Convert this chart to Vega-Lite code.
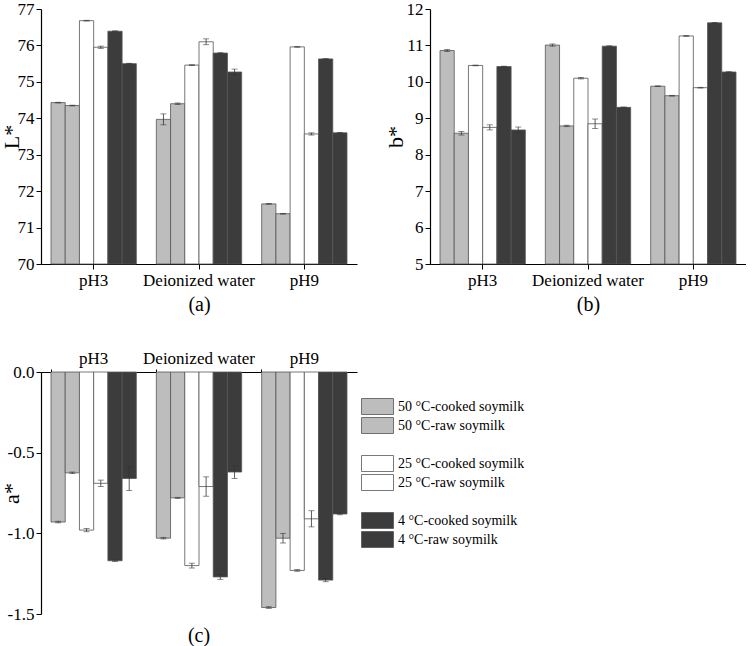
{
  "$schema": "https://vega.github.io/schema/vega-lite/v6.json",
  "padding": {"left": 0, "top": 0, "right": 0, "bottom": 0},
  "background": "white",
  "config": {
    "view": {"stroke": null},
    "font": "Liberation Serif",
    "axis": {"labelFont": "Liberation Serif", "titleFont": "Liberation Serif", "labelFontSize": 17, "titleFontSize": 22, "titleFontWeight": "normal", "labelColor": "black", "titleColor": "black", "domainColor": "black", "tickColor": "black", "grid": false, "labelAngle": 0, "domainWidth": 1.2, "tickWidth": 1},
    "legend": {"labelFont": "Liberation Serif", "titleFont": "Liberation Serif"},
    "title": {"font": "Liberation Serif", "fontWeight": "normal", "color": "black"}
  },
  "datasets": {
    "L": [
      {"medium": "pH3", "sample": "50 °C-cooked soymilk", "value": 74.43, "err": 0.01},
      {"medium": "pH3", "sample": "50 °C-raw soymilk", "value": 74.35, "err": 0.01},
      {"medium": "pH3", "sample": "25 °C-cooked soymilk", "value": 76.68, "err": 0.01},
      {"medium": "pH3", "sample": "25 °C-raw soymilk", "value": 75.95, "err": 0.03},
      {"medium": "pH3", "sample": "4 °C-cooked soymilk", "value": 76.39, "err": 0.01},
      {"medium": "pH3", "sample": "4 °C-raw soymilk", "value": 75.5, "err": 0.01},
      {"medium": "Deionized water", "sample": "50 °C-cooked soymilk", "value": 73.97, "err": 0.15},
      {"medium": "Deionized water", "sample": "50 °C-raw soymilk", "value": 74.4, "err": 0.02},
      {"medium": "Deionized water", "sample": "25 °C-cooked soymilk", "value": 75.46, "err": 0.01},
      {"medium": "Deionized water", "sample": "25 °C-raw soymilk", "value": 76.1, "err": 0.08},
      {"medium": "Deionized water", "sample": "4 °C-cooked soymilk", "value": 75.79, "err": 0.01},
      {"medium": "Deionized water", "sample": "4 °C-raw soymilk", "value": 75.27, "err": 0.08},
      {"medium": "pH9", "sample": "50 °C-cooked soymilk", "value": 71.65, "err": 0.01},
      {"medium": "pH9", "sample": "50 °C-raw soymilk", "value": 71.38, "err": 0.01},
      {"medium": "pH9", "sample": "25 °C-cooked soymilk", "value": 75.96, "err": 0.01},
      {"medium": "pH9", "sample": "25 °C-raw soymilk", "value": 73.57, "err": 0.03},
      {"medium": "pH9", "sample": "4 °C-cooked soymilk", "value": 75.63, "err": 0.01},
      {"medium": "pH9", "sample": "4 °C-raw soymilk", "value": 73.6, "err": 0.01}
    ],
    "B": [
      {"medium": "pH3", "sample": "50 °C-cooked soymilk", "value": 10.86, "err": 0.03},
      {"medium": "pH3", "sample": "50 °C-raw soymilk", "value": 8.59, "err": 0.05},
      {"medium": "pH3", "sample": "25 °C-cooked soymilk", "value": 10.45, "err": 0.01},
      {"medium": "pH3", "sample": "25 °C-raw soymilk", "value": 8.75, "err": 0.07},
      {"medium": "pH3", "sample": "4 °C-cooked soymilk", "value": 10.42, "err": 0.01},
      {"medium": "pH3", "sample": "4 °C-raw soymilk", "value": 8.68, "err": 0.08},
      {"medium": "Deionized water", "sample": "50 °C-cooked soymilk", "value": 11.01, "err": 0.03},
      {"medium": "Deionized water", "sample": "50 °C-raw soymilk", "value": 8.79, "err": 0.02},
      {"medium": "Deionized water", "sample": "25 °C-cooked soymilk", "value": 10.1, "err": 0.02},
      {"medium": "Deionized water", "sample": "25 °C-raw soymilk", "value": 8.85, "err": 0.13},
      {"medium": "Deionized water", "sample": "4 °C-cooked soymilk", "value": 10.98, "err": 0.01},
      {"medium": "Deionized water", "sample": "4 °C-raw soymilk", "value": 9.3, "err": 0.01},
      {"medium": "pH9", "sample": "50 °C-cooked soymilk", "value": 9.88, "err": 0.01},
      {"medium": "pH9", "sample": "50 °C-raw soymilk", "value": 9.62, "err": 0.01},
      {"medium": "pH9", "sample": "25 °C-cooked soymilk", "value": 11.26, "err": 0.01},
      {"medium": "pH9", "sample": "25 °C-raw soymilk", "value": 9.84, "err": 0.01},
      {"medium": "pH9", "sample": "4 °C-cooked soymilk", "value": 11.62, "err": 0.01},
      {"medium": "pH9", "sample": "4 °C-raw soymilk", "value": 10.27, "err": 0.01}
    ],
    "A": [
      {"medium": "pH3", "sample": "50 °C-cooked soymilk", "value": -0.93, "err": 0.005},
      {"medium": "pH3", "sample": "50 °C-raw soymilk", "value": -0.625, "err": 0.005},
      {"medium": "pH3", "sample": "25 °C-cooked soymilk", "value": -0.98, "err": 0.01},
      {"medium": "pH3", "sample": "25 °C-raw soymilk", "value": -0.69, "err": 0.02},
      {"medium": "pH3", "sample": "4 °C-cooked soymilk", "value": -1.17, "err": 0.005},
      {"medium": "pH3", "sample": "4 °C-raw soymilk", "value": -0.66, "err": 0.075},
      {"medium": "Deionized water", "sample": "50 °C-cooked soymilk", "value": -1.03, "err": 0.005},
      {"medium": "Deionized water", "sample": "50 °C-raw soymilk", "value": -0.78, "err": 0.003},
      {"medium": "Deionized water", "sample": "25 °C-cooked soymilk", "value": -1.2, "err": 0.015},
      {"medium": "Deionized water", "sample": "25 °C-raw soymilk", "value": -0.71, "err": 0.06},
      {"medium": "Deionized water", "sample": "4 °C-cooked soymilk", "value": -1.27, "err": 0.015},
      {"medium": "Deionized water", "sample": "4 °C-raw soymilk", "value": -0.62, "err": 0.04},
      {"medium": "pH9", "sample": "50 °C-cooked soymilk", "value": -1.46, "err": 0.005},
      {"medium": "pH9", "sample": "50 °C-raw soymilk", "value": -1.03, "err": 0.03},
      {"medium": "pH9", "sample": "25 °C-cooked soymilk", "value": -1.23, "err": 0.005},
      {"medium": "pH9", "sample": "25 °C-raw soymilk", "value": -0.91, "err": 0.05},
      {"medium": "pH9", "sample": "4 °C-cooked soymilk", "value": -1.29, "err": 0.01},
      {"medium": "pH9", "sample": "4 °C-raw soymilk", "value": -0.88, "err": 0.005}
    ]
  },
  "bounds": "flush",
  "columns": 2,
  "spacing": {"row": 108, "column": 73},
  "resolve": {"scale": {"fill": "independent", "stroke": "independent"}, "legend": {"fill": "independent", "stroke": "independent"}},
  "concat": [
    {
      "width": 316, "height": 255,
      "data": {"name": "L"},
      "encoding": {
        "x": {"field": "medium", "type": "nominal", "sort": ["pH3", "Deionized water", "pH9"], "scale": {"paddingInner": 0.19, "paddingOuter": 0.095}, "axis": {"title": "(a)", "titleFontSize": 20, "titlePadding": 6, "labelPadding": 3, "tickSize": 5}},
        "xOffset": {"field": "sample", "type": "nominal", "scale": {"domain": ["50 °C-cooked soymilk", "50 °C-raw soymilk", "25 °C-cooked soymilk", "25 °C-raw soymilk", "4 °C-cooked soymilk", "4 °C-raw soymilk"], "paddingInner": 0, "paddingOuter": 0}},
        "y": {"field": "value", "type": "quantitative", "scale": {"domain": [70, 77], "nice": false, "zero": false}, "axis": {"title": "L*", "values": [70, 71, 72, 73, 74, 75, 76, 77], "titleX": -18, "tickSize": 5, "labelPadding": 2}}
      },
      "layer": [
        {"mark": {"type": "bar", "stroke": "#555555", "strokeWidth": 0.8},
         "encoding": {
           "y2": {"datum": 70},
           "fill": {"field": "sample", "type": "nominal", "scale": {"domain": ["50 °C-cooked soymilk", "50 °C-raw soymilk", " ", "25 °C-cooked soymilk", "25 °C-raw soymilk", "  ", "4 °C-cooked soymilk", "4 °C-raw soymilk"], "range": ["#bdbdbd", "#bdbdbd", "#ffffff", "#ffffff", "#ffffff", "#ffffff", "#3c3c3c", "#3c3c3c"]}, "legend": null}
         }},
        {"mark": {"type": "errorbar", "ticks": {"size": 6}, "color": "#333333", "thickness": 0.8},
         "encoding": {"yError": {"field": "err"}}}
      ]
    },
    {
      "width": 316, "height": 255,
      "data": {"name": "B"},
      "encoding": {
        "x": {"field": "medium", "type": "nominal", "sort": ["pH3", "Deionized water", "pH9"], "scale": {"paddingInner": 0.19, "paddingOuter": 0.095}, "axis": {"title": "(b)", "titleFontSize": 20, "titlePadding": 6, "labelPadding": 3, "tickSize": 5}},
        "xOffset": {"field": "sample", "type": "nominal", "scale": {"domain": ["50 °C-cooked soymilk", "50 °C-raw soymilk", "25 °C-cooked soymilk", "25 °C-raw soymilk", "4 °C-cooked soymilk", "4 °C-raw soymilk"], "paddingInner": 0, "paddingOuter": 0}},
        "y": {"field": "value", "type": "quantitative", "scale": {"domain": [5, 12], "nice": false, "zero": false}, "axis": {"title": "b*", "values": [5, 6, 7, 8, 9, 10, 11, 12], "titleX": -22.5, "tickSize": 5, "labelPadding": 2}}
      },
      "layer": [
        {"mark": {"type": "bar", "stroke": "#555555", "strokeWidth": 0.8},
         "encoding": {
           "y2": {"datum": 5},
           "fill": {"field": "sample", "type": "nominal", "scale": {"domain": ["50 °C-cooked soymilk", "50 °C-raw soymilk", " ", "25 °C-cooked soymilk", "25 °C-raw soymilk", "  ", "4 °C-cooked soymilk", "4 °C-raw soymilk"], "range": ["#bdbdbd", "#bdbdbd", "#ffffff", "#ffffff", "#ffffff", "#ffffff", "#3c3c3c", "#3c3c3c"]}, "legend": null}
         }},
        {"mark": {"type": "errorbar", "ticks": {"size": 6}, "color": "#333333", "thickness": 0.8},
         "encoding": {"yError": {"field": "err"}}}
      ]
    },
    {
      "width": 316, "height": 242,
      "data": {"name": "A"},
      "title": {"text": "(c)", "orient": "bottom", "fontSize": 20, "offset": 4},
      "encoding": {
        "x": {"field": "medium", "type": "nominal", "sort": ["pH3", "Deionized water", "pH9"], "scale": {"paddingInner": 0.19, "paddingOuter": 0.095}, "axis": {"orient": "top", "title": null, "labelPadding": 2, "tickSize": 3, "bandPosition": 0}},
        "xOffset": {"field": "sample", "type": "nominal", "scale": {"domain": ["50 °C-cooked soymilk", "50 °C-raw soymilk", "25 °C-cooked soymilk", "25 °C-raw soymilk", "4 °C-cooked soymilk", "4 °C-raw soymilk"], "paddingInner": 0, "paddingOuter": 0}},
        "y": {"field": "value", "type": "quantitative", "scale": {"domain": [-1.5, 0], "nice": false}, "axis": {"title": "a*", "values": [-1.5, -1, -0.5, 0], "labelExpr": "replace(format(datum.value, '.1f'), '−', '-')", "titleX": -17.5, "tickSize": 5, "labelPadding": 2}}
      },
      "layer": [
        {"mark": {"type": "bar", "strokeWidth": 0.8},
         "encoding": {
           "y2": {"datum": 0},
           "fill": {"field": "sample", "type": "nominal", "scale": {"domain": ["50 °C-cooked soymilk", "50 °C-raw soymilk", " ", "25 °C-cooked soymilk", "25 °C-raw soymilk", "  ", "4 °C-cooked soymilk", "4 °C-raw soymilk"], "range": ["#bdbdbd", "#bdbdbd", "transparent", "#ffffff", "#ffffff", "transparent", "#3c3c3c", "#3c3c3c"]},
             "legend": {"orient": "none", "legendX": 328, "legendY": 26, "title": null, "symbolType": "M-2,-1H2V1H-2Z", "symbolSize": 256, "labelOffset": 12, "rowPadding": -7, "labelFontSize": 14, "labelColor": "black", "symbolStrokeWidth": 0.8}},
           "stroke": {"field": "sample", "type": "nominal", "scale": {"domain": ["50 °C-cooked soymilk", "50 °C-raw soymilk", " ", "25 °C-cooked soymilk", "25 °C-raw soymilk", "  ", "4 °C-cooked soymilk", "4 °C-raw soymilk"], "range": ["#555555", "#555555", "transparent", "#555555", "#555555", "transparent", "#555555", "#555555"]},
             "legend": {"orient": "none", "legendX": 328, "legendY": 26, "title": null, "symbolType": "M-2,-1H2V1H-2Z", "symbolSize": 256, "labelOffset": 12, "rowPadding": -7, "labelFontSize": 14, "labelColor": "black", "symbolStrokeWidth": 0.8}}
         }},
        {"mark": {"type": "errorbar", "ticks": {"size": 6}, "color": "#333333", "thickness": 0.8},
         "encoding": {"yError": {"field": "err"}}}
      ]
    }
  ]
}
